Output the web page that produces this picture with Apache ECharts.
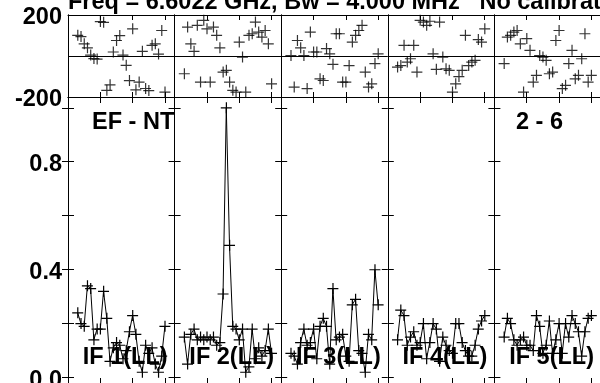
<!DOCTYPE html>
<html>
<head>
<meta charset="utf-8">
<script src="https://cdn.jsdelivr.net/npm/echarts@6/dist/echarts.min.js"></script>
<style>
html,body{margin:0;padding:0;background:#fff;}
#c{width:600px;height:383px;}
</style>
</head>
<body>
<div id="c"></div>
<script>
// ---- data ----
const titleText = 'Freq = 6.6022 GHz, Bw = 4.000 MHz   No calibration';
const baselineLabel = 'EF - NT';
const sourceLabel = '2 - 6';
const ifLabels = ['IF 1(LL)', 'IF 2(LL)', 'IF 3(LL)', 'IF 4(LL)', 'IF 5(LL)'];
const channels = [3,4,5,6,7,8,9,10,11,12,13,14,15,16,17,18,19,20,21,22,23,24,25,26,27,28,29,30];

const phase1 = [101,95,60,40,5,-12,-15,168,165,-167,-140,20,76,100,5,-45,-120,133,-165,-127,23,-158,-168,52,60,10,125,-176];
const phase2 = [-86,141,60,23,150,-127,174,133,-127,141,101,40,-78,-70,-127,-167,-176,68,-5,-176,101,109,166,117,93,125,60,-135];
const phase3 = [3,-151,76,40,3,-159,117,20,20,-111,-119,36,11,-40,109,109,-127,-127,-46,68,101,125,150,-78,-151,-135,-37,11];
const phase4 = [-54,-46,52,-29,-13,52,-78,174,166,150,170,11,-65,166,-5,-62,-70,-176,-135,-100,-70,101,-46,-29,-21,80,68,133];
const phase5 = [-37,93,101,117,125,60,-176,85,28,-127,-94,3,-5,-21,-86,-78,76,125,-159,-143,-37,28,-111,-94,-13,109,-127,-94];

const amp1 = [0.24,0.20,0.19,0.34,0.33,0.14,0.18,0.18,0.32,0.22,0.06,0.11,0.13,0.12,0.07,0.10,0.17,0.23,0.16,0.06,0.02,0.12,0.09,0.11,0.05,0.02,0.08,0.19];
const amp2 = [0.15,0.05,0.16,0.18,0.14,0.15,0.14,0.15,0.14,0.15,0.12,0.13,0.31,1.00,0.49,0.19,0.18,0.14,0.18,0.02,0.04,0.18,0.07,0.11,0.08,0.10,0.18,0.09];
const amp3 = [0.09,0.08,0.05,0.13,0.18,0.12,0.13,0.18,0.07,0.19,0.22,0.19,0.05,0.33,0.14,0.15,0.16,0.08,0.06,0.27,0.29,0.10,0.09,0.02,0.16,0.14,0.40,0.27];
const amp4 = [0.14,0.25,0.23,0.12,0.15,0.17,0.12,0.13,0.20,0.07,0.13,0.20,0.18,0.06,0.15,0.12,0.10,0.09,0.20,0.20,0.13,0.10,0.08,0.08,0.12,0.18,0.21,0.23];
const amp5 = [0.15,0.22,0.20,0.14,0.12,0.14,0.15,0.12,0.12,0.10,0.23,0.19,0.09,0.12,0.21,0.09,0.14,0.20,0.09,0.20,0.15,0.23,0.20,0.17,0.08,0.17,0.22,0.23];

const phaseTicks = [-200, 200];
const ampTicks = [0, 0.2, 0.4, 0.6, 0.8, 1.0];
const ampLabels = [0, 0.4, 0.8];

// ---- layout ----
const phases = [phase1, phase2, phase3, phase4, phase5];
const amps = [amp1, amp2, amp3, amp4, amp5];
const L = 68, W = 106.6;
const FONT = '"Liberation Sans", Arial, sans-serif';
const FS = 23.5;
const crossPath = 'path://M0,5h11v1.2h-11z M5,0h1.2v11h-1.2z';

const grid = [], xAxis = [], yAxis = [], series = [];
const lineColor = '#000';
const labelRich = {a: {color: '#000', fontFamily: FONT, fontWeight: 'bold', fontSize: FS, padding: [5, 0, 0, 0]}};

function addXAxes(g, tickLen) {
  const base = {
    gridIndex: g, type: 'value', min: 0, max: 33, interval: 10,
    axisLine: {show: true, onZero: false, lineStyle: {color: lineColor, width: 1}},
    axisTick: {show: true, inside: true, length: tickLen, lineStyle: {color: lineColor}},
    axisLabel: {show: false}, splitLine: {show: false}
  };
  xAxis.push(Object.assign({}, base, {position: 'bottom'}));
  xAxis.push(Object.assign({}, base, {position: 'top'}));
}

for (let i = 0; i < 5; i++) {
  const g = i;
  grid.push({left: L + i * W, top: 15, width: W, height: 82, containLabel: false, outerBoundsMode: 'none'});
  addXAxes(g, 5);
  yAxis.push({
    gridIndex: g, type: 'value', min: -200, max: 200, interval: 200, position: 'left',
    axisLine: {show: true, lineStyle: {color: lineColor}},
    axisTick: {show: false},
    splitLine: {show: true, lineStyle: {color: lineColor, width: 1}},
    axisLabel: {show: i === 0, margin: 6, customValues: phaseTicks, rich: labelRich,
      formatter: v => '{a|' + v + '}'}
  });
  yAxis.push({
    gridIndex: g, type: 'value', min: -200, max: 200, position: 'right',
    axisLine: {show: true, lineStyle: {color: lineColor}},
    axisTick: {show: false}, axisLabel: {show: false}, splitLine: {show: false}
  });
  series.push({
    type: 'scatter', xAxisIndex: 2 * g, yAxisIndex: 2 * g,
    data: channels.map((c, k) => [c, phases[i][k]]),
    symbol: crossPath, symbolSize: 11, itemStyle: {color: '#000'}, silent: true
  });
}
for (let i = 0; i < 5; i++) {
  const g = 5 + i;
  grid.push({left: L + i * W, top: 97, width: W, height: 287, containLabel: false, outerBoundsMode: 'none'});
  addXAxes(g, 6);
  yAxis.push({
    gridIndex: g, type: 'value', min: -0.024, max: 1.04, position: 'left',
    axisLine: {show: true, lineStyle: {color: lineColor}},
    axisTick: {show: true, inside: true, length: 6, customValues: ampTicks, lineStyle: {color: lineColor}},
    splitLine: {show: false},
    axisLabel: {show: i === 0, margin: 6, customValues: ampLabels, rich: labelRich,
      formatter: v => '{a|' + Number(v).toFixed(1) + '}'}
  });
  yAxis.push({
    gridIndex: g, type: 'value', min: -0.024, max: 1.04, position: 'right',
    axisLine: {show: true, lineStyle: {color: lineColor}},
    axisTick: {show: true, inside: true, length: 6, customValues: ampTicks, lineStyle: {color: lineColor}},
    axisLabel: {show: false}, splitLine: {show: false}
  });
  series.push({
    type: 'line', xAxisIndex: 2 * g, yAxisIndex: 2 * g,
    data: channels.map((c, k) => [c, amps[i][k]]),
    symbol: crossPath, symbolSize: 11, showSymbol: true, showAllSymbol: true,
    itemStyle: {color: '#000'}, lineStyle: {color: '#000', width: 1}, silent: true
  });
}

const txt = (x, y, text, align) => ({
  type: 'text', x: x, y: y, z: 100, silent: true,
  style: {text: text, fill: '#000', font: 'bold ' + FS + 'px ' + FONT, align: align || 'left', verticalAlign: 'middle'}
});
const graphic = [
  txt(L, 2.5, titleText),
  txt(92, 123, baselineLabel),
  txt(516, 123, sourceLabel)
];
ifLabels.forEach((t, i) => graphic.push(txt(L + (i + 1) * W - 7, 358, t, 'right')));

const chart = echarts.init(document.getElementById('c'), null, {renderer: 'canvas'});
chart.setOption({
  animation: false,
  backgroundColor: '#fff',
  grid, xAxis, yAxis, series, graphic
});
</script>
</body>
</html>
